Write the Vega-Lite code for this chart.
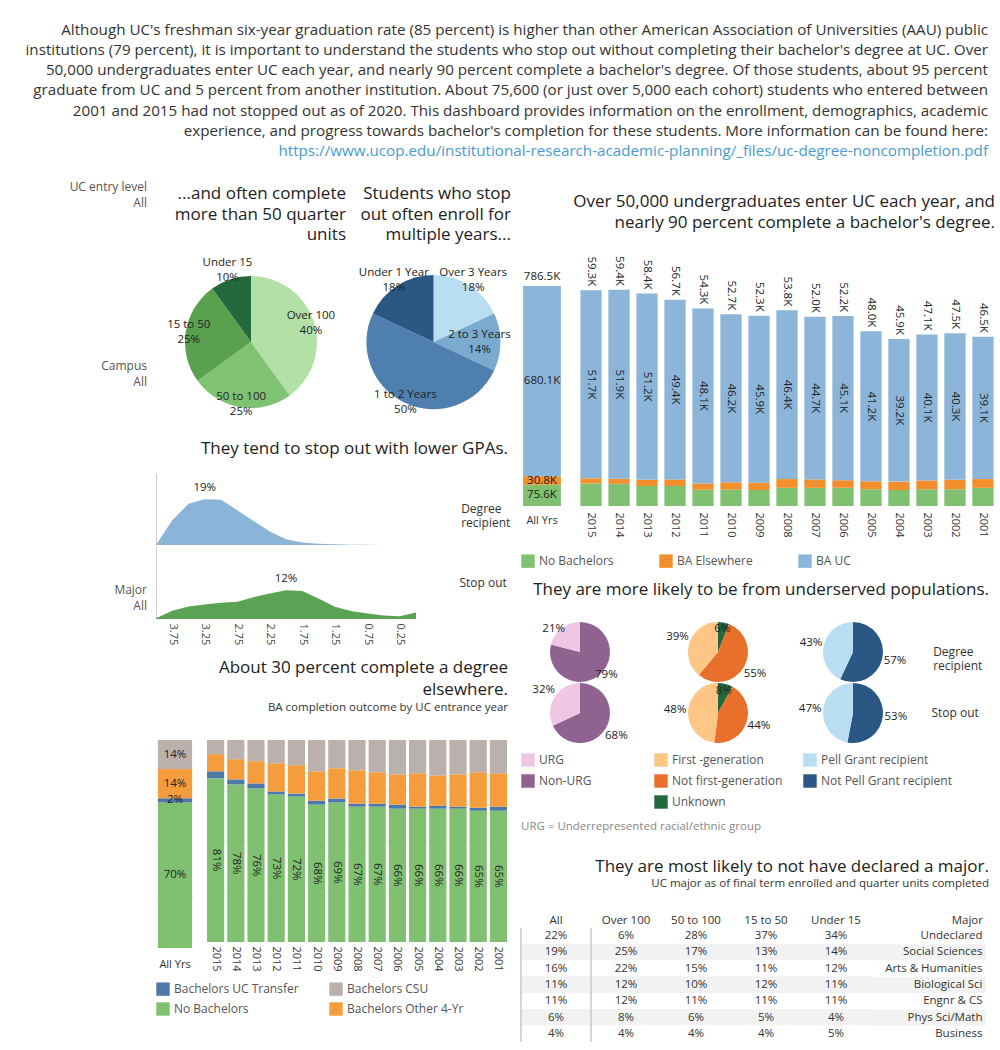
{
  "$schema": "https://vega.github.io/schema/vega-lite/v6.json",
  "background": "white",
  "padding": {"left": 5, "top": 22, "right": 5, "bottom": 0},
  "config": {
    "font": "Open Sans",
    "view": {"stroke": null},
    "axis": {"labelFont": "Open Sans", "labelColor": "#444", "labelFontSize": 11, "titleFont": "Open Sans"},
    "legend": {"labelFont": "Open Sans", "labelFontSize": 12, "labelColor": "#555", "symbolType": "square", "symbolSize": 180, "symbolStrokeWidth": 0, "title": null},
    "title": {"font": "Open Sans", "fontSize": 17, "fontWeight": "normal", "color": "#222", "anchor": "end", "lineHeight": 21.5, "subtitleFont": "Open Sans", "subtitleFontSize": 11.5, "subtitleColor": "#333"},
    "header": {"labelFont": "Open Sans", "labelFontSize": 12, "labelColor": "#333"}
  },
  "datasets": {
    "ucbars": [
      {"year": "2015", "outcome": "No Bachelors", "k": 6.2, "o": 1}, {"year": "2015", "outcome": "BA Elsewhere", "k": 1.4, "o": 2}, {"year": "2015", "outcome": "BA UC", "k": 51.7, "o": 3},
      {"year": "2014", "outcome": "No Bachelors", "k": 6.1, "o": 1}, {"year": "2014", "outcome": "BA Elsewhere", "k": 1.4, "o": 2}, {"year": "2014", "outcome": "BA UC", "k": 51.9, "o": 3},
      {"year": "2013", "outcome": "No Bachelors", "k": 5.5, "o": 1}, {"year": "2013", "outcome": "BA Elsewhere", "k": 1.7, "o": 2}, {"year": "2013", "outcome": "BA UC", "k": 51.2, "o": 3},
      {"year": "2012", "outcome": "No Bachelors", "k": 5.5, "o": 1}, {"year": "2012", "outcome": "BA Elsewhere", "k": 1.8, "o": 2}, {"year": "2012", "outcome": "BA UC", "k": 49.4, "o": 3},
      {"year": "2011", "outcome": "No Bachelors", "k": 4.5, "o": 1}, {"year": "2011", "outcome": "BA Elsewhere", "k": 1.7, "o": 2}, {"year": "2011", "outcome": "BA UC", "k": 48.1, "o": 3},
      {"year": "2010", "outcome": "No Bachelors", "k": 4.5, "o": 1}, {"year": "2010", "outcome": "BA Elsewhere", "k": 2.0, "o": 2}, {"year": "2010", "outcome": "BA UC", "k": 46.2, "o": 3},
      {"year": "2009", "outcome": "No Bachelors", "k": 4.4, "o": 1}, {"year": "2009", "outcome": "BA Elsewhere", "k": 2.0, "o": 2}, {"year": "2009", "outcome": "BA UC", "k": 45.9, "o": 3},
      {"year": "2008", "outcome": "No Bachelors", "k": 5.0, "o": 1}, {"year": "2008", "outcome": "BA Elsewhere", "k": 2.4, "o": 2}, {"year": "2008", "outcome": "BA UC", "k": 46.4, "o": 3},
      {"year": "2007", "outcome": "No Bachelors", "k": 5.0, "o": 1}, {"year": "2007", "outcome": "BA Elsewhere", "k": 2.3, "o": 2}, {"year": "2007", "outcome": "BA UC", "k": 44.7, "o": 3},
      {"year": "2006", "outcome": "No Bachelors", "k": 5.0, "o": 1}, {"year": "2006", "outcome": "BA Elsewhere", "k": 2.1, "o": 2}, {"year": "2006", "outcome": "BA UC", "k": 45.1, "o": 3},
      {"year": "2005", "outcome": "No Bachelors", "k": 4.6, "o": 1}, {"year": "2005", "outcome": "BA Elsewhere", "k": 2.2, "o": 2}, {"year": "2005", "outcome": "BA UC", "k": 41.2, "o": 3},
      {"year": "2004", "outcome": "No Bachelors", "k": 4.4, "o": 1}, {"year": "2004", "outcome": "BA Elsewhere", "k": 2.3, "o": 2}, {"year": "2004", "outcome": "BA UC", "k": 39.2, "o": 3},
      {"year": "2003", "outcome": "No Bachelors", "k": 4.6, "o": 1}, {"year": "2003", "outcome": "BA Elsewhere", "k": 2.4, "o": 2}, {"year": "2003", "outcome": "BA UC", "k": 40.1, "o": 3},
      {"year": "2002", "outcome": "No Bachelors", "k": 4.6, "o": 1}, {"year": "2002", "outcome": "BA Elsewhere", "k": 2.6, "o": 2}, {"year": "2002", "outcome": "BA UC", "k": 40.3, "o": 3},
      {"year": "2001", "outcome": "No Bachelors", "k": 5.0, "o": 1}, {"year": "2001", "outcome": "BA Elsewhere", "k": 2.4, "o": 2}, {"year": "2001", "outcome": "BA UC", "k": 39.1, "o": 3}
    ],
    "ucall": [
      {"year": "All Yrs", "outcome": "No Bachelors", "k": 75.6, "o": 1},
      {"year": "All Yrs", "outcome": "BA Elsewhere", "k": 30.8, "o": 2},
      {"year": "All Yrs", "outcome": "BA UC", "k": 680.1, "o": 3}
    ],
    "pct": [
      {"year": "2015", "outcome": "No Bachelors", "p": 0.81, "o": 1}, {"year": "2015", "outcome": "Bachelors UC Transfer", "p": 0.035, "o": 2}, {"year": "2015", "outcome": "Bachelors Other 4-Yr", "p": 0.085, "o": 3}, {"year": "2015", "outcome": "Bachelors CSU", "p": 0.07, "o": 4},
      {"year": "2014", "outcome": "No Bachelors", "p": 0.78, "o": 1}, {"year": "2014", "outcome": "Bachelors UC Transfer", "p": 0.025, "o": 2}, {"year": "2014", "outcome": "Bachelors Other 4-Yr", "p": 0.10, "o": 3}, {"year": "2014", "outcome": "Bachelors CSU", "p": 0.095, "o": 4},
      {"year": "2013", "outcome": "No Bachelors", "p": 0.76, "o": 1}, {"year": "2013", "outcome": "Bachelors UC Transfer", "p": 0.025, "o": 2}, {"year": "2013", "outcome": "Bachelors Other 4-Yr", "p": 0.11, "o": 3}, {"year": "2013", "outcome": "Bachelors CSU", "p": 0.105, "o": 4},
      {"year": "2012", "outcome": "No Bachelors", "p": 0.73, "o": 1}, {"year": "2012", "outcome": "Bachelors UC Transfer", "p": 0.015, "o": 2}, {"year": "2012", "outcome": "Bachelors Other 4-Yr", "p": 0.14, "o": 3}, {"year": "2012", "outcome": "Bachelors CSU", "p": 0.115, "o": 4},
      {"year": "2011", "outcome": "No Bachelors", "p": 0.72, "o": 1}, {"year": "2011", "outcome": "Bachelors UC Transfer", "p": 0.015, "o": 2}, {"year": "2011", "outcome": "Bachelors Other 4-Yr", "p": 0.14, "o": 3}, {"year": "2011", "outcome": "Bachelors CSU", "p": 0.125, "o": 4},
      {"year": "2010", "outcome": "No Bachelors", "p": 0.68, "o": 1}, {"year": "2010", "outcome": "Bachelors UC Transfer", "p": 0.02, "o": 2}, {"year": "2010", "outcome": "Bachelors Other 4-Yr", "p": 0.145, "o": 3}, {"year": "2010", "outcome": "Bachelors CSU", "p": 0.155, "o": 4},
      {"year": "2009", "outcome": "No Bachelors", "p": 0.69, "o": 1}, {"year": "2009", "outcome": "Bachelors UC Transfer", "p": 0.02, "o": 2}, {"year": "2009", "outcome": "Bachelors Other 4-Yr", "p": 0.15, "o": 3}, {"year": "2009", "outcome": "Bachelors CSU", "p": 0.14, "o": 4},
      {"year": "2008", "outcome": "No Bachelors", "p": 0.67, "o": 1}, {"year": "2008", "outcome": "Bachelors UC Transfer", "p": 0.015, "o": 2}, {"year": "2008", "outcome": "Bachelors Other 4-Yr", "p": 0.165, "o": 3}, {"year": "2008", "outcome": "Bachelors CSU", "p": 0.15, "o": 4},
      {"year": "2007", "outcome": "No Bachelors", "p": 0.67, "o": 1}, {"year": "2007", "outcome": "Bachelors UC Transfer", "p": 0.015, "o": 2}, {"year": "2007", "outcome": "Bachelors Other 4-Yr", "p": 0.155, "o": 3}, {"year": "2007", "outcome": "Bachelors CSU", "p": 0.16, "o": 4},
      {"year": "2006", "outcome": "No Bachelors", "p": 0.66, "o": 1}, {"year": "2006", "outcome": "Bachelors UC Transfer", "p": 0.02, "o": 2}, {"year": "2006", "outcome": "Bachelors Other 4-Yr", "p": 0.15, "o": 3}, {"year": "2006", "outcome": "Bachelors CSU", "p": 0.17, "o": 4},
      {"year": "2005", "outcome": "No Bachelors", "p": 0.66, "o": 1}, {"year": "2005", "outcome": "Bachelors UC Transfer", "p": 0.01, "o": 2}, {"year": "2005", "outcome": "Bachelors Other 4-Yr", "p": 0.165, "o": 3}, {"year": "2005", "outcome": "Bachelors CSU", "p": 0.165, "o": 4},
      {"year": "2004", "outcome": "No Bachelors", "p": 0.66, "o": 1}, {"year": "2004", "outcome": "Bachelors UC Transfer", "p": 0.015, "o": 2}, {"year": "2004", "outcome": "Bachelors Other 4-Yr", "p": 0.15, "o": 3}, {"year": "2004", "outcome": "Bachelors CSU", "p": 0.175, "o": 4},
      {"year": "2003", "outcome": "No Bachelors", "p": 0.66, "o": 1}, {"year": "2003", "outcome": "Bachelors UC Transfer", "p": 0.01, "o": 2}, {"year": "2003", "outcome": "Bachelors Other 4-Yr", "p": 0.16, "o": 3}, {"year": "2003", "outcome": "Bachelors CSU", "p": 0.17, "o": 4},
      {"year": "2002", "outcome": "No Bachelors", "p": 0.65, "o": 1}, {"year": "2002", "outcome": "Bachelors UC Transfer", "p": 0.015, "o": 2}, {"year": "2002", "outcome": "Bachelors Other 4-Yr", "p": 0.175, "o": 3}, {"year": "2002", "outcome": "Bachelors CSU", "p": 0.16, "o": 4},
      {"year": "2001", "outcome": "No Bachelors", "p": 0.65, "o": 1}, {"year": "2001", "outcome": "Bachelors UC Transfer", "p": 0.02, "o": 2}, {"year": "2001", "outcome": "Bachelors Other 4-Yr", "p": 0.165, "o": 3}, {"year": "2001", "outcome": "Bachelors CSU", "p": 0.165, "o": 4}
    ],
    "pctall": [
      {"year": "All Yrs", "outcome": "No Bachelors", "p": 0.70, "o": 1},
      {"year": "All Yrs", "outcome": "Bachelors UC Transfer", "p": 0.02, "o": 2},
      {"year": "All Yrs", "outcome": "Bachelors Other 4-Yr", "p": 0.14, "o": 3},
      {"year": "All Yrs", "outcome": "Bachelors CSU", "p": 0.14, "o": 4}
    ],
    "dens": [
      {"group": "Degree recipient", "gpa": 0.0, "pct": 0.0005}, {"group": "Degree recipient", "gpa": 0.25, "pct": 0.0005}, {"group": "Degree recipient", "gpa": 0.5, "pct": 0.0005},
      {"group": "Degree recipient", "gpa": 0.75, "pct": 0.001}, {"group": "Degree recipient", "gpa": 1.0, "pct": 0.0015}, {"group": "Degree recipient", "gpa": 1.25, "pct": 0.003},
      {"group": "Degree recipient", "gpa": 1.5, "pct": 0.005}, {"group": "Degree recipient", "gpa": 1.75, "pct": 0.01}, {"group": "Degree recipient", "gpa": 2.0, "pct": 0.024},
      {"group": "Degree recipient", "gpa": 2.25, "pct": 0.056}, {"group": "Degree recipient", "gpa": 2.5, "pct": 0.1}, {"group": "Degree recipient", "gpa": 2.75, "pct": 0.145},
      {"group": "Degree recipient", "gpa": 3.0, "pct": 0.189}, {"group": "Degree recipient", "gpa": 3.25, "pct": 0.191}, {"group": "Degree recipient", "gpa": 3.5, "pct": 0.172},
      {"group": "Degree recipient", "gpa": 3.75, "pct": 0.103}, {"group": "Degree recipient", "gpa": 4.0, "pct": 0.0},
      {"group": "Stop out", "gpa": 0.0, "pct": 0.027}, {"group": "Stop out", "gpa": 0.25, "pct": 0.011}, {"group": "Stop out", "gpa": 0.5, "pct": 0.015},
      {"group": "Stop out", "gpa": 0.75, "pct": 0.023}, {"group": "Stop out", "gpa": 1.0, "pct": 0.033}, {"group": "Stop out", "gpa": 1.25, "pct": 0.051},
      {"group": "Stop out", "gpa": 1.5, "pct": 0.085}, {"group": "Stop out", "gpa": 1.75, "pct": 0.117}, {"group": "Stop out", "gpa": 2.0, "pct": 0.12},
      {"group": "Stop out", "gpa": 2.25, "pct": 0.106}, {"group": "Stop out", "gpa": 2.5, "pct": 0.091}, {"group": "Stop out", "gpa": 2.75, "pct": 0.072},
      {"group": "Stop out", "gpa": 3.0, "pct": 0.068}, {"group": "Stop out", "gpa": 3.25, "pct": 0.06}, {"group": "Stop out", "gpa": 3.5, "pct": 0.052},
      {"group": "Stop out", "gpa": 3.75, "pct": 0.034}, {"group": "Stop out", "gpa": 4.0, "pct": 0.003}
    ],
    "table": [
      {"major": "Undeclared", "col": "Under 15", "v": 0.34}, {"major": "Undeclared", "col": "15 to 50", "v": 0.37}, {"major": "Undeclared", "col": "50 to 100", "v": 0.28}, {"major": "Undeclared", "col": "Over 100", "v": 0.06}, {"major": "Undeclared", "col": "All", "v": 0.22},
      {"major": "Social Sciences", "col": "Under 15", "v": 0.14}, {"major": "Social Sciences", "col": "15 to 50", "v": 0.13}, {"major": "Social Sciences", "col": "50 to 100", "v": 0.17}, {"major": "Social Sciences", "col": "Over 100", "v": 0.25}, {"major": "Social Sciences", "col": "All", "v": 0.19},
      {"major": "Arts & Humanities", "col": "Under 15", "v": 0.12}, {"major": "Arts & Humanities", "col": "15 to 50", "v": 0.11}, {"major": "Arts & Humanities", "col": "50 to 100", "v": 0.15}, {"major": "Arts & Humanities", "col": "Over 100", "v": 0.22}, {"major": "Arts & Humanities", "col": "All", "v": 0.16},
      {"major": "Biological Sci", "col": "Under 15", "v": 0.11}, {"major": "Biological Sci", "col": "15 to 50", "v": 0.12}, {"major": "Biological Sci", "col": "50 to 100", "v": 0.10}, {"major": "Biological Sci", "col": "Over 100", "v": 0.12}, {"major": "Biological Sci", "col": "All", "v": 0.11},
      {"major": "Engnr & CS", "col": "Under 15", "v": 0.11}, {"major": "Engnr & CS", "col": "15 to 50", "v": 0.11}, {"major": "Engnr & CS", "col": "50 to 100", "v": 0.11}, {"major": "Engnr & CS", "col": "Over 100", "v": 0.12}, {"major": "Engnr & CS", "col": "All", "v": 0.11},
      {"major": "Phys Sci/Math", "col": "Under 15", "v": 0.04}, {"major": "Phys Sci/Math", "col": "15 to 50", "v": 0.05}, {"major": "Phys Sci/Math", "col": "50 to 100", "v": 0.06}, {"major": "Phys Sci/Math", "col": "Over 100", "v": 0.08}, {"major": "Phys Sci/Math", "col": "All", "v": 0.06},
      {"major": "Business", "col": "Under 15", "v": 0.05}, {"major": "Business", "col": "15 to 50", "v": 0.04}, {"major": "Business", "col": "50 to 100", "v": 0.04}, {"major": "Business", "col": "Over 100", "v": 0.04}, {"major": "Business", "col": "All", "v": 0.04}
    ]
  },
  "spacing": 8,
  "resolve": {"scale": {"color": "independent", "theta": "independent"}, "legend": {"color": "independent"}},
  "vconcat": [
    {
      "width": 983, "height": 1,
      "title": {
        "text": [
          "Although UC's freshman six-year graduation rate (85 percent) is higher than other American Association of Universities (AAU) public",
          "institutions (79 percent), it is important to understand the students who stop out without completing their bachelor's degree at UC. Over",
          "50,000 undergraduates enter UC each year, and nearly 90 percent complete a bachelor's degree. Of those students, about 95 percent",
          "graduate from UC and 5 percent  from another institution. About 75,600 (or just over 5,000 each cohort) students who entered between",
          "2001 and 2015 had not stopped out as of 2020. This dashboard provides information on the enrollment, demographics, academic",
          "experience, and progress towards bachelor's completion for these students. More information can be found here:"
        ],
        "subtitle": "https://www.ucop.edu/institutional-research-academic-planning/_files/uc-degree-noncompletion.pdf",
        "fontSize": 15.2, "color": "#333", "lineHeight": 20.3, "anchor": "end",
        "subtitleFontSize": 15.2, "subtitleColor": "#4a9bcf", "subtitlePadding": 5, "subtitleLineHeight": 20, "offset": 2
      },
      "data": {"values": [{}]}, "mark": {"type": "text"}, "encoding": {"text": {"value": ""}}
    },
    {
      "spacing": 9,
      "resolve": {"scale": {"color": "independent", "theta": "independent"}, "legend": {"color": "independent"}},
      "hconcat": [
        {
          "spacing": 0,
          "vconcat": [
            {"width": 142, "height": 116, "title": {"text": "UC entry level", "subtitle": "All", "fontSize": 12, "subtitleFontSize": 12, "color": "#555", "subtitleColor": "#555", "anchor": "end", "offset": 34, "subtitlePadding": 4}, "data": {"values": [{}]}, "mark": {"type": "text"}, "encoding": {"text": {"value": ""}}},
            {"width": 142, "height": 195, "title": {"text": "Campus", "subtitle": "All", "fontSize": 12, "subtitleFontSize": 12, "color": "#555", "subtitleColor": "#555", "anchor": "end", "offset": 0, "subtitlePadding": 4}, "data": {"values": [{}]}, "mark": {"type": "text"}, "encoding": {"text": {"value": ""}}},
            {"width": 142, "height": 10, "title": {"text": "Major", "subtitle": "All", "fontSize": 12, "subtitleFontSize": 12, "color": "#555", "subtitleColor": "#555", "anchor": "end", "offset": 0, "subtitlePadding": 4}, "data": {"values": [{}]}, "mark": {"type": "text"}, "encoding": {"text": {"value": ""}}}
          ]
        },
        {
          "spacing": 0,
          "resolve": {"scale": {"color": "independent", "theta": "independent"}, "legend": {"color": "independent"}},
          "vconcat": [
            {
              "spacing": 10,
              "resolve": {"scale": {"color": "independent", "theta": "independent"}},
              "hconcat": [
                {
                  "width": 190, "height": 196,
                  "title": {"text": ["...and often complete", "more than 50 quarter", "units"], "offset": 0, "lineHeight": 20.5},
                  "data": {"values": [
                    {"units": "Over 100", "pct": 0.40, "o": 1},
                    {"units": "50 to 100", "pct": 0.25, "o": 2},
                    {"units": "15 to 50", "pct": 0.25, "o": 3},
                    {"units": "Under 15", "pct": 0.10, "o": 4}
                  ]},
                  "encoding": {
                    "theta": {"field": "pct", "type": "quantitative", "stack": true},
                    "order": {"field": "o", "type": "quantitative"},
                    "detail": {"field": "units", "type": "nominal"}
                  },
                  "layer": [
                    {"mark": {"type": "arc", "outerRadius": 66}, "encoding": {"color": {"field": "units", "type": "nominal", "scale": {"domain": ["Over 100", "50 to 100", "15 to 50", "Under 15"], "range": ["#b3e0a6", "#7fc271", "#59a14f", "#24693d"]}, "legend": null}}},
                    {"mark": {"type": "text", "radius": {"expr": "datum.units == 'Under 15' ? 76 : 63"}, "dy": -7, "fontSize": 11.5, "color": "#222"}, "encoding": {"text": {"field": "units"}}},
                    {"mark": {"type": "text", "radius": {"expr": "datum.units == 'Under 15' ? 76 : 63"}, "dy": 8, "fontSize": 11.5, "color": "#222"}, "encoding": {"text": {"field": "pct", "format": ".0%"}}}
                  ]
                },
                {
                  "width": 155, "height": 196,
                  "title": {"text": ["Students who stop", "out often enroll for", "multiple years..."], "offset": 0, "lineHeight": 20.5},
                  "data": {"values": [
                    {"yrs": "Over 3 Years", "pct": 0.18, "o": 1},
                    {"yrs": "2 to 3 Years", "pct": 0.14, "o": 2},
                    {"yrs": "1 to 2 Years", "pct": 0.50, "o": 3},
                    {"yrs": "Under 1 Year", "pct": 0.18, "o": 4}
                  ]},
                  "encoding": {
                    "theta": {"field": "pct", "type": "quantitative", "stack": true},
                    "order": {"field": "o", "type": "quantitative"},
                    "detail": {"field": "yrs", "type": "nominal"}
                  },
                  "layer": [
                    {"mark": {"type": "arc", "outerRadius": 67}, "encoding": {"color": {"field": "yrs", "type": "nominal", "scale": {"domain": ["Over 3 Years", "2 to 3 Years", "1 to 2 Years", "Under 1 Year"], "range": ["#b9ddf1", "#7aaad0", "#4f7fae", "#2a5783"]}, "legend": null}}},
                    {"mark": {"type": "text", "radius": {"expr": "datum.yrs == '2 to 3 Years' ? 46 : datum.yrs == '1 to 2 Years' ? 66 : 74"}, "dy": -7, "fontSize": 11.5, "color": "#222"}, "encoding": {"text": {"field": "yrs"}}},
                    {"mark": {"type": "text", "radius": {"expr": "datum.yrs == '2 to 3 Years' ? 46 : datum.yrs == '1 to 2 Years' ? 66 : 74"}, "dy": 8, "fontSize": 11.5, "color": "#222"}, "encoding": {"text": {"field": "pct", "format": ".0%"}}}
                  ]
                }
              ]
            },
            {
              "width": 352, "height": 6,
              "title": {"text": "They tend to stop out with lower GPAs.", "offset": 4},
              "data": {"values": [{}]}, "mark": {"type": "text"}, "encoding": {"text": {"value": ""}}
            },
            {
              "data": {"name": "dens"},
              "facet": {"row": {"field": "group", "type": "nominal", "sort": ["Degree recipient", "Stop out"], "header": {"title": null, "labelOrient": "right", "labelAngle": 0, "labelAlign": "left", "labelBaseline": "middle", "labelPadding": -4, "labelExpr": "datum.value == 'Degree recipient' ? ['Degree', 'recipient'] : datum.value"}}},
              "spacing": 2,
              "spec": {
                "width": 260, "height": 72,
                "encoding": {
                  "x": {"field": "gpa", "type": "quantitative", "scale": {"domain": [0, 4], "reverse": true, "nice": false}, "axis": {"values": [0.25, 0.75, 1.25, 1.75, 2.25, 2.75, 3.25, 3.75], "format": ".2f", "labelAngle": 90, "ticks": false, "domain": false, "grid": false, "title": " ", "titleFontSize": 8, "titlePadding": 6, "labelPadding": 4}},
                  "y": {"field": "pct", "type": "quantitative", "scale": {"domain": [0, 0.3]}, "axis": {"labels": false, "ticks": false, "grid": false, "title": null, "domainColor": "#cccccc"}}
                },
                "layer": [
                  {"mark": {"type": "area"}, "encoding": {"color": {"field": "group", "type": "nominal", "scale": {"domain": ["Degree recipient", "Stop out"], "range": ["#8ab5d8", "#5aa354"]}, "legend": null}}},
                  {"transform": [{"joinaggregate": [{"op": "max", "field": "pct", "as": "mx"}], "groupby": ["group"]}, {"filter": "datum.pct == datum.mx"}],
                   "mark": {"type": "text", "baseline": "bottom", "dy": -6, "fontSize": 11.5, "color": "#222"}, "encoding": {"text": {"field": "pct", "format": ".0%"}}}
                ]
              }
            },
            {
              "spacing": 12,
              "resolve": {"scale": {"x": "independent", "y": "independent", "color": "shared"}},
              "hconcat": [
                {
                  "width": 38, "height": 208,
                  "data": {"name": "pctall"},
                  "encoding": {
                    "x": {"field": "year", "type": "nominal", "scale": {"paddingInner": 0.1, "paddingOuter": 0.05}, "axis": {"title": null, "labelAngle": 0, "ticks": false, "domain": false, "labelPadding": 10, "labelColor": "#333"}},
                    "y": {"field": "p", "type": "quantitative", "stack": "normalize", "axis": {"title": null, "labels": false, "ticks": false, "domain": false, "grid": true, "gridColor": "#eeeeee", "values": [0.25, 0.5, 0.75]}},
                    "order": {"field": "o", "type": "quantitative"},
                    "detail": {"field": "outcome", "type": "nominal"}
                  },
                  "layer": [
                    {"mark": {"type": "bar"}, "encoding": {"color": {"field": "outcome", "type": "nominal", "scale": {"domain": ["Bachelors UC Transfer", "Bachelors CSU", "No Bachelors", "Bachelors Other 4-Yr"], "range": ["#4e79a7", "#bab0ac", "#80c171", "#f59d3d"]}, "legend": {"orient": "bottom", "columns": 2, "columnPadding": 30, "rowPadding": 6, "offset": 10}}}},
                    {"mark": {"type": "text", "fontSize": 11.5, "color": "#222"}, "encoding": {"y": {"field": "p", "type": "quantitative", "stack": "normalize", "bandPosition": 0.5}, "text": {"field": "p", "format": ".0%"}}}
                  ]
                },
                {
                  "width": 302, "height": 202,
                  "title": {"text": ["About 30 percent complete a degree", "elsewhere."], "subtitle": "BA completion outcome by UC entrance year", "subtitlePadding": 3, "offset": 26},
                  "data": {"name": "pct"},
                  "encoding": {
                    "x": {"field": "year", "type": "nominal", "sort": ["2015", "2014", "2013", "2012", "2011", "2010", "2009", "2008", "2007", "2006", "2005", "2004", "2003", "2002", "2001"], "scale": {"paddingInner": 0.15, "paddingOuter": 0.05}, "axis": {"title": null, "labelAngle": 90, "ticks": false, "domain": false, "labelPadding": 4, "labelColor": "#333"}},
                    "y": {"field": "p", "type": "quantitative", "stack": "normalize", "axis": {"title": null, "labels": false, "ticks": false, "domain": false, "grid": true, "gridColor": "#eeeeee", "values": [0.25, 0.5, 0.75]}},
                    "order": {"field": "o", "type": "quantitative"},
                    "detail": {"field": "outcome", "type": "nominal"}
                  },
                  "layer": [
                    {"mark": {"type": "bar"}, "encoding": {"color": {"field": "outcome", "type": "nominal", "scale": {"domain": ["Bachelors UC Transfer", "Bachelors CSU", "No Bachelors", "Bachelors Other 4-Yr"], "range": ["#4e79a7", "#bab0ac", "#80c171", "#f59d3d"]}, "legend": {"orient": "bottom", "columns": 2, "columnPadding": 30, "rowPadding": 6, "offset": 10}}}},
                    {"mark": {"type": "text", "fontSize": 11.5, "color": "#222", "angle": 90}, "encoding": {"y": {"field": "p", "type": "quantitative", "stack": "normalize", "bandPosition": 0.5}, "text": {"value": {"expr": "datum.outcome == 'No Bachelors' ? format(datum.p, '.0%') : ''"}}}}
                  ]
                }
              ]
            }
          ]
        },
        {
          "spacing": 12,
          "resolve": {"scale": {"color": "independent", "theta": "independent"}, "legend": {"color": "independent"}},
          "vconcat": [
            {
              "spacing": 10,
              "resolve": {"scale": {"x": "independent", "y": "independent", "color": "shared"}},
              "hconcat": [
                {
                  "width": 42, "height": 262,
                  "data": {"name": "ucall"},
                  "encoding": {
                    "x": {"field": "year", "type": "nominal", "scale": {"paddingInner": 0.1, "paddingOuter": 0.05}, "axis": {"title": null, "labelAngle": 0, "ticks": false, "domain": false, "labelPadding": 8, "labelColor": "#333"}},
                    "y": {"field": "k", "type": "quantitative", "stack": "zero", "scale": {"domain": [0, 937]}, "axis": null},
                    "order": {"field": "o", "type": "quantitative"},
                    "detail": {"field": "outcome", "type": "nominal"}
                  },
                  "layer": [
                    {"mark": {"type": "bar"}, "encoding": {"color": {"field": "outcome", "type": "nominal", "scale": {"domain": ["No Bachelors", "BA Elsewhere", "BA UC"], "range": ["#80c171", "#f28e2b", "#8cb6d9"]}, "legend": {"orient": "bottom", "direction": "horizontal", "columnPadding": 45, "offset": 16}}}},
                    {"mark": {"type": "text", "fontSize": 11.5, "color": "#222"}, "encoding": {"y": {"field": "k", "type": "quantitative", "stack": "zero", "bandPosition": 0.5}, "text": {"value": {"expr": "format(datum.k, '.1f') + 'K'"}}}},
                    {"transform": [{"aggregate": [{"op": "sum", "field": "k", "as": "total"}], "groupby": ["year"]}],
                     "mark": {"type": "text", "fontSize": 11.5, "color": "#222", "baseline": "bottom", "dy": -4},
                     "encoding": {"y": {"field": "total", "type": "quantitative"}, "order": null, "detail": null, "text": {"value": {"expr": "format(datum.total, '.1f') + 'K'"}}}}
                  ]
                },
                {
                  "width": 416, "height": 262,
                  "title": {"text": ["Over 50,000 undergraduates enter UC each year, and", "nearly 90 percent complete a bachelor's degree."], "offset": 12},
                  "data": {"name": "ucbars"},
                  "encoding": {
                    "x": {"field": "year", "type": "nominal", "sort": ["2015", "2014", "2013", "2012", "2011", "2010", "2009", "2008", "2007", "2006", "2005", "2004", "2003", "2002", "2001"], "scale": {"paddingInner": 0.24, "paddingOuter": 0.05}, "axis": {"title": null, "labelAngle": 90, "ticks": false, "domain": false, "labelPadding": 6, "labelColor": "#333"}},
                    "y": {"field": "k", "type": "quantitative", "stack": "zero", "scale": {"domain": [0, 72]}, "axis": null},
                    "order": {"field": "o", "type": "quantitative"},
                    "detail": {"field": "outcome", "type": "nominal"}
                  },
                  "layer": [
                    {"mark": {"type": "bar"}, "encoding": {"color": {"field": "outcome", "type": "nominal", "scale": {"domain": ["No Bachelors", "BA Elsewhere", "BA UC"], "range": ["#80c171", "#f28e2b", "#8cb6d9"]}, "legend": {"orient": "bottom", "direction": "horizontal", "columnPadding": 45, "offset": 16}}}},
                    {"mark": {"type": "text", "fontSize": 11.5, "color": "#222", "angle": 90}, "encoding": {"y": {"field": "k", "type": "quantitative", "stack": "zero", "bandPosition": 0.5}, "text": {"value": {"expr": "datum.outcome == 'BA UC' ? format(datum.k, '.1f') + 'K' : ''"}}}},
                    {"transform": [{"aggregate": [{"op": "sum", "field": "k", "as": "total"}], "groupby": ["year"]}],
                     "mark": {"type": "text", "fontSize": 11.5, "color": "#222", "angle": 90, "align": "right", "baseline": "middle", "dx": -4},
                     "encoding": {"y": {"field": "total", "type": "quantitative"}, "order": null, "detail": null, "text": {"value": {"expr": "format(datum.total, '.1f') + 'K'"}}}}
                  ]
                }
              ]
            },
            {
              "width": 468, "height": 1,
              "title": {"text": "They are more likely to be from underserved populations.", "offset": 0},
              "data": {"values": [{}]}, "mark": {"type": "text"}, "encoding": {"text": {"value": ""}}
            },
            {
              "spacing": 15,
              "resolve": {"scale": {"color": "independent", "theta": "independent"}, "legend": {"color": "independent"}},
              "hconcat": [
                {
                  "data": {"values": [
                    {"group": "Degree recipient", "cat": "Non-URG", "pct": 0.79, "o": 1}, {"group": "Degree recipient", "cat": "URG", "pct": 0.21, "o": 2},
                    {"group": "Stop out", "cat": "Non-URG", "pct": 0.68, "o": 1}, {"group": "Stop out", "cat": "URG", "pct": 0.32, "o": 2}
                  ]},
                  "facet": {"row": {"field": "group", "type": "nominal", "sort": ["Degree recipient", "Stop out"], "header": {"labels": false, "title": null}}},
                  "spacing": 1,
                  "spec": {
                    "width": 118, "height": 60,
                    "encoding": {"theta": {"field": "pct", "type": "quantitative", "stack": true}, "order": {"field": "o", "type": "quantitative"}, "detail": {"field": "cat", "type": "nominal"}},
                    "layer": [
                      {"mark": {"type": "arc", "outerRadius": 30}, "encoding": {"color": {"field": "cat", "type": "nominal", "scale": {"domain": ["URG", "Non-URG"], "range": ["#f1c6e2", "#8f6290"]}, "legend": {"orient": "bottom", "direction": "vertical", "offset": 10, "rowPadding": 7}}}},
                      {"mark": {"type": "text", "radius": 43, "dy": {"expr": "datum.group == 'Degree recipient' ? (datum.cat == 'URG' ? 11 : -11) : 0"}, "fontSize": 11.5, "color": "#222"}, "encoding": {"text": {"field": "pct", "format": ".0%"}}}
                    ]
                  }
                },
                {
                  "data": {"values": [
                    {"group": "Degree recipient", "cat": "Unknown", "pct": 0.06, "o": 1}, {"group": "Degree recipient", "cat": "Not first-generation", "pct": 0.55, "o": 2}, {"group": "Degree recipient", "cat": "First -generation", "pct": 0.39, "o": 3},
                    {"group": "Stop out", "cat": "Unknown", "pct": 0.08, "o": 1}, {"group": "Stop out", "cat": "Not first-generation", "pct": 0.44, "o": 2}, {"group": "Stop out", "cat": "First -generation", "pct": 0.48, "o": 3}
                  ]},
                  "facet": {"row": {"field": "group", "type": "nominal", "sort": ["Degree recipient", "Stop out"], "header": {"labels": false, "title": null}}},
                  "spacing": 1,
                  "spec": {
                    "width": 128, "height": 60,
                    "encoding": {"theta": {"field": "pct", "type": "quantitative", "stack": true}, "order": {"field": "o", "type": "quantitative"}, "detail": {"field": "cat", "type": "nominal"}},
                    "layer": [
                      {"mark": {"type": "arc", "outerRadius": 30}, "encoding": {"color": {"field": "cat", "type": "nominal", "scale": {"domain": ["First -generation", "Not first-generation", "Unknown"], "range": ["#ffc685", "#e8702a", "#24693d"]}, "legend": {"orient": "bottom", "direction": "vertical", "offset": 10, "rowPadding": 7}}}},
                      {"mark": {"type": "text", "radius": {"expr": "datum.cat == 'Unknown' ? 23 : 43"}, "fontSize": 11.5, "color": "#222"}, "encoding": {"text": {"field": "pct", "format": ".0%"}}}
                    ]
                  }
                },
                {
                  "data": {"values": [
                    {"group": "Degree recipient", "cat": "Not Pell Grant recipient", "pct": 0.57, "o": 1}, {"group": "Degree recipient", "cat": "Pell Grant recipient", "pct": 0.43, "o": 2},
                    {"group": "Stop out", "cat": "Not Pell Grant recipient", "pct": 0.53, "o": 1}, {"group": "Stop out", "cat": "Pell Grant recipient", "pct": 0.47, "o": 2}
                  ]},
                  "facet": {"row": {"field": "group", "type": "nominal", "sort": ["Degree recipient", "Stop out"], "header": {"title": null, "labelOrient": "right", "labelAngle": 0, "labelAlign": "left", "labelBaseline": "middle", "labelPadding": -24, "labelExpr": "datum.value == 'Degree recipient' ? ['Degree', 'recipient'] : datum.value"}}},
                  "spacing": 1,
                  "spec": {
                    "width": 100, "height": 60,
                    "encoding": {"theta": {"field": "pct", "type": "quantitative", "stack": true}, "order": {"field": "o", "type": "quantitative"}, "detail": {"field": "cat", "type": "nominal"}},
                    "layer": [
                      {"mark": {"type": "arc", "outerRadius": 30}, "encoding": {"color": {"field": "cat", "type": "nominal", "scale": {"domain": ["Pell Grant recipient", "Not Pell Grant recipient"], "range": ["#b9ddf1", "#2a5783"]}, "legend": {"orient": "bottom", "direction": "vertical", "offset": 10, "rowPadding": 7}}}},
                      {"mark": {"type": "text", "radius": 43, "fontSize": 11.5, "color": "#222"}, "encoding": {"text": {"field": "pct", "format": ".0%"}}}
                    ]
                  }
                }
              ]
            },
            {
              "width": 468, "height": 1,
              "title": {"text": "URG = Underrepresented racial/ethnic group", "anchor": "start", "fontSize": 11.5, "color": "#888", "offset": 2},
              "data": {"values": [{}]}, "mark": {"type": "text"}, "encoding": {"text": {"value": ""}}
            },
            {
              "width": 468, "height": 1,
              "title": {"text": "They are most likely to not have declared a major.", "subtitle": "UC major as of final term enrolled and quarter units completed", "offset": 0, "subtitlePadding": 2},
              "data": {"values": [{}]}, "mark": {"type": "text"}, "encoding": {"text": {"value": ""}}
            },
            {
              "data": {"name": "table"},
              "spacing": 0,
              "resolve": {"scale": {"x": "independent", "y": "shared"}},
              "hconcat": [
                {
                  "width": 350, "height": 114,
                  "encoding": {"y": {"field": "major", "type": "nominal", "sort": ["Undeclared", "Social Sciences", "Arts & Humanities", "Biological Sci", "Engnr & CS", "Phys Sci/Math", "Business"], "axis": null}},
                  "layer": [
                    {"mark": {"type": "rect"}, "encoding": {"fill": {"condition": {"test": "indexof(['Social Sciences', 'Biological Sci', 'Phys Sci/Math'], datum.major) >= 0", "value": "#f2f2f2"}, "value": "#ffffff"}}},
                    {"mark": {"type": "text", "fontSize": 11.5, "color": "#333"}, "encoding": {
                      "x": {"field": "col", "type": "nominal", "sort": ["All", "Over 100", "50 to 100", "15 to 50", "Under 15"], "axis": {"orient": "top", "title": null, "ticks": false, "domain": false, "labelAngle": 0, "labelFontSize": 11.5, "labelColor": "#333", "labelPadding": 3}},
                      "text": {"field": "v", "format": ".0%"}}},
                    {"mark": {"type": "rule", "color": "#d4d4d4"}, "encoding": {"x": {"datum": "Over 100", "type": "nominal", "bandPosition": 0}, "y": null}},
                    {"mark": {"type": "rule", "color": "#d4d4d4"}, "encoding": {"x": {"datum": "All", "type": "nominal", "bandPosition": 0}, "y": null}}
                  ]
                },
                {
                  "width": 115, "height": 114,
                  "transform": [{"filter": "datum.col == 'All'"}],
                  "encoding": {"y": {"field": "major", "type": "nominal", "sort": ["Undeclared", "Social Sciences", "Arts & Humanities", "Biological Sci", "Engnr & CS", "Phys Sci/Math", "Business"], "axis": null}},
                  "layer": [
                    {"mark": {"type": "rect"}, "encoding": {"fill": {"condition": {"test": "indexof(['Social Sciences', 'Biological Sci', 'Phys Sci/Math'], datum.major) >= 0", "value": "#f2f2f2"}, "value": "#ffffff"}}},
                    {"mark": {"type": "text", "fontSize": 11.5, "color": "#333", "align": "right", "dx": 54}, "encoding": {
                      "x": {"datum": "Major", "type": "nominal", "axis": {"orient": "top", "title": null, "ticks": false, "domain": false, "labelAngle": 0, "labelFontSize": 11.5, "labelColor": "#333", "labelPadding": 3, "labelAlign": "right", "labelOffset": 54}},
                      "text": {"field": "major"}}}
                  ]
                }
              ]
            }
          ]
        }
      ]
    }
  ]
}
